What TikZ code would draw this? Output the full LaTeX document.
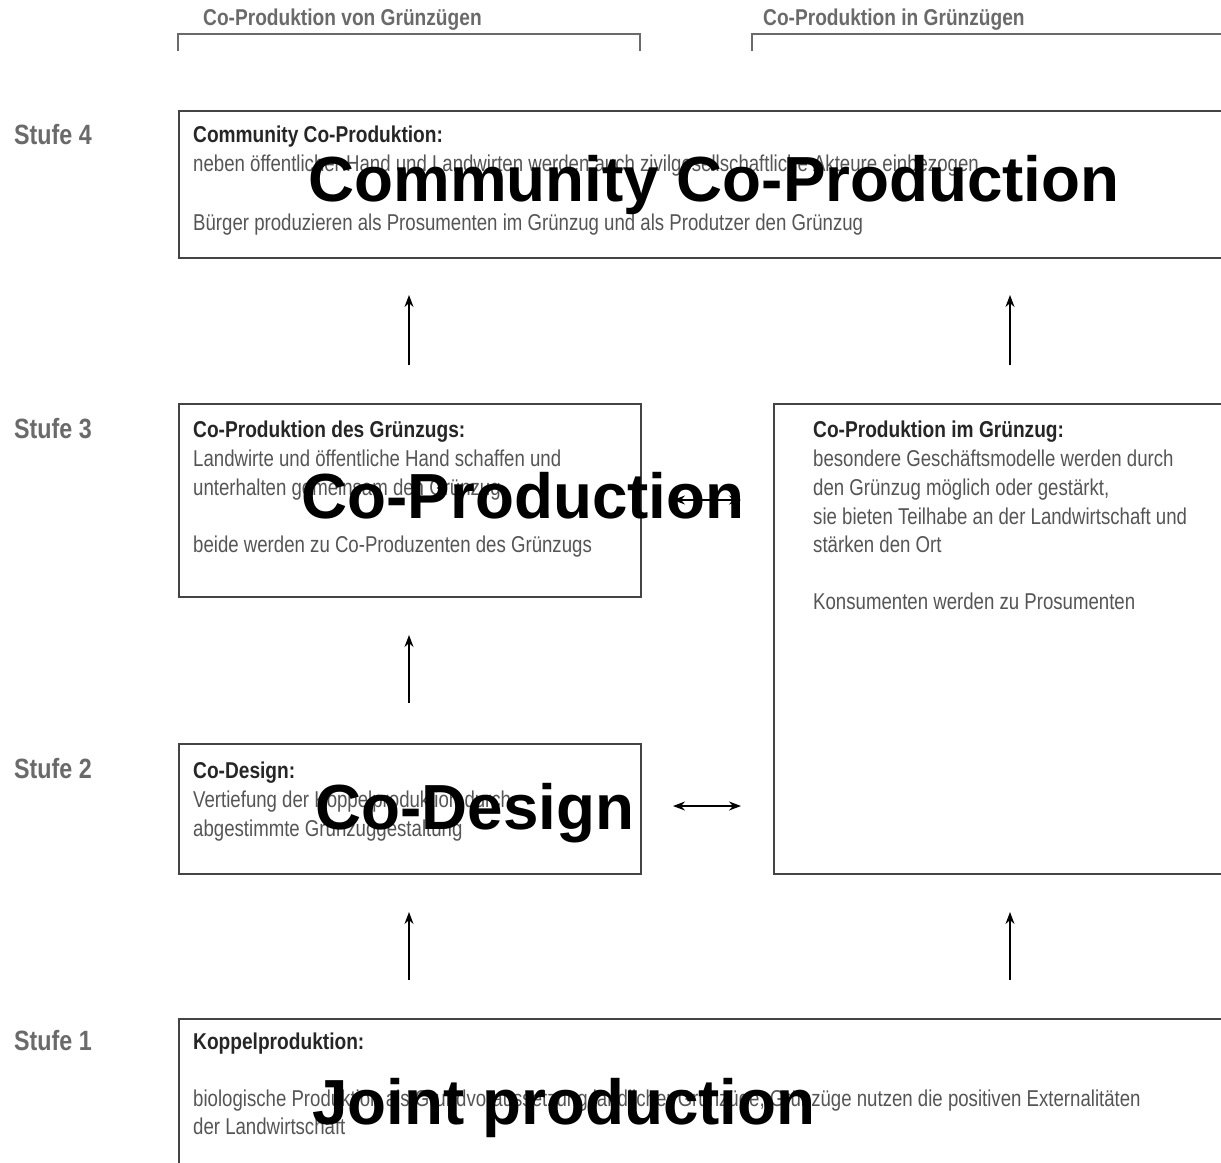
\documentclass[tikz,border=0pt]{standalone}
\usepackage{fontspec}
\setmainfont{Liberation Sans}
\newfontfamily\cond[FakeStretch=0.813]{Liberation Sans}
\newfontfamily\condb[FakeStretch=0.835]{Liberation Sans}
\usetikzlibrary{arrows.meta}
\definecolor{bodygray}{HTML}{555555}
\definecolor{headgray}{HTML}{262626}
\definecolor{labgray}{HTML}{6A6A6A}
\definecolor{linegray}{HTML}{444444}
\tikzset{
  box/.style={draw=linegray, line width=1.8bp, anchor=north west, inner sep=0pt},
  body/.style={anchor=base west, inner sep=0pt, text=bodygray, font=\cond\fontsize{23}{28}\selectfont},
  head/.style={anchor=base west, inner sep=0pt, text=headgray, font=\condb\bfseries\fontsize{23}{28}\selectfont},
  stufe/.style={anchor=base west, inner sep=0pt, text=labgray, font=\condb\bfseries\fontsize{28}{32}\selectfont},
  toplab/.style={anchor=base west, inner sep=0pt, text=labgray, font=\condb\bfseries\fontsize{23}{28}\selectfont},
  big/.style={anchor=base, inner sep=0pt, text=black, font=\bfseries\fontsize{64}{70}\selectfont},
  arr/.style={-{Stealth[length=12bp,width=9bp]}, line width=1.3bp, black},
  darr/.style={{Stealth[length=12bp,width=9bp]}-{Stealth[length=12bp,width=9bp]}, line width=1.3bp, black},
  bracket/.style={draw=labgray, line width=1.5bp}
}
\begin{document}
\begin{tikzpicture}[x=1bp,y=-1bp]
\useasboundingbox[fill=white] (0,0) rectangle (1221,1163);
\clip (0,0) rectangle (1221,1163);

% top labels and brackets
\node[toplab] (tl1) at (203,25) {Co-Produktion von Grünzügen};
\node[toplab] (tl2) at (763,25) {Co-Produktion in Grünzügen};
\draw[bracket] (178,51) -- (178,34) -- (640,34) -- (640,51);
\draw[bracket] (752,51) -- (752,34) -- (1240,34);

% Stufe labels
\node[stufe] (s4) at (14,144) {Stufe 4};
\node[stufe] (s3) at (14,438) {Stufe 3};
\node[stufe] (s2) at (14,778) {Stufe 2};
\node[stufe] (s1) at (14,1050) {Stufe 1};

% boxes
\node[box, minimum width=1080bp, minimum height=147bp] (b4) at (178,110) {};
\node[box, minimum width=462bp, minimum height=193bp] (b3l) at (178,403) {};
\node[box, minimum width=480bp, minimum height=470bp] (b3r) at (773,403) {};
\node[box, minimum width=462bp, minimum height=130bp] (b2) at (178,743) {};
\node[box, minimum width=1080bp, minimum height=200bp] (b1) at (178,1018) {};

% box 4 text
\node[head] (t4h) at (193,142) {Community Co-Produktion:};
\node[body] (t4a) at (193,171) {neben öffentlicher Hand und Landwirten werden auch zivilgesellschaftliche Akteure einbezogen};
\node[body] (t4b) at (193,230) {Bürger produzieren als Prosumenten im Grünzug und als Produtzer den Grünzug};

% box 3 left text
\node[head] (t3h) at (193,437) {Co-Produktion des Grünzugs:};
\node[body] (t3a) at (193,466) {Landwirte und öffentliche Hand schaffen und};
\node[body] (t3b) at (193,495) {unterhalten gemeinsam den Grünzug};
\node[body] (t3c) at (193,552) {beide werden zu Co-Produzenten des Grünzugs};

% box 3 right text
\node[head] (t3rh) at (813,437) {Co-Produktion im Grünzug:};
\node[body] (t3ra) at (813,466) {besondere Geschäftsmodelle werden durch};
\node[body] (t3rb) at (813,495) {den Grünzug möglich oder gestärkt,};
\node[body] (t3rc) at (813,524) {sie bieten Teilhabe an der Landwirtschaft und};
\node[body] (t3rd) at (813,552) {stärken den Ort};
\node[body] (t3re) at (813,609) {Konsumenten werden zu Prosumenten};

% box 2 text
\node[head] (t2h) at (193,778) {Co-Design:};
\node[body] (t2a) at (193,807) {Vertiefung der Koppelproduktion durch};
\node[body] (t2b) at (193,836) {abgestimmte Grünzuggestaltung};

% box 1 text
\node[head] (t1h) at (193,1049) {Koppelproduktion:};
\node[body] (t1a) at (193,1106) {biologische Produktion als Grundvoraussetzung ländlicher Grünzüge, Grünzüge nutzen die positiven Externalitäten};
\node[body] (t1b) at (193,1134) {der Landwirtschaft};

% arrows
\coordinate (u1a) at (409,980); \coordinate (u1b) at (409,912);
\coordinate (u2a) at (1010,980); \coordinate (u2b) at (1010,912);
\coordinate (u3a) at (409,703); \coordinate (u3b) at (409,635);
\coordinate (u4a) at (409,365); \coordinate (u4b) at (409,295);
\coordinate (u5a) at (1010,365); \coordinate (u5b) at (1010,295);
\coordinate (h1a) at (673,500); \coordinate (h1b) at (741,500);
\coordinate (h2a) at (673,806); \coordinate (h2b) at (741,806);
\draw[arr] (u1a) -- (u1b);
\draw[arr] (u2a) -- (u2b);
\draw[arr] (u3a) -- (u3b);
\draw[arr] (u4a) -- (u4b);
\draw[arr] (u5a) -- (u5b);
\draw[darr] (h1a) -- (h1b);
\draw[darr] (h2a) -- (h2b);

% overlay titles
\node[big] (o4) at (714,201) {Community Co-Production};
\node[big] (o3) at (523,518) {Co-Production};
\node[big] (o2) at (475,829) {Co-Design};
\node[big] (o1) at (564,1124) {Joint production};
\end{tikzpicture}
\end{document}
